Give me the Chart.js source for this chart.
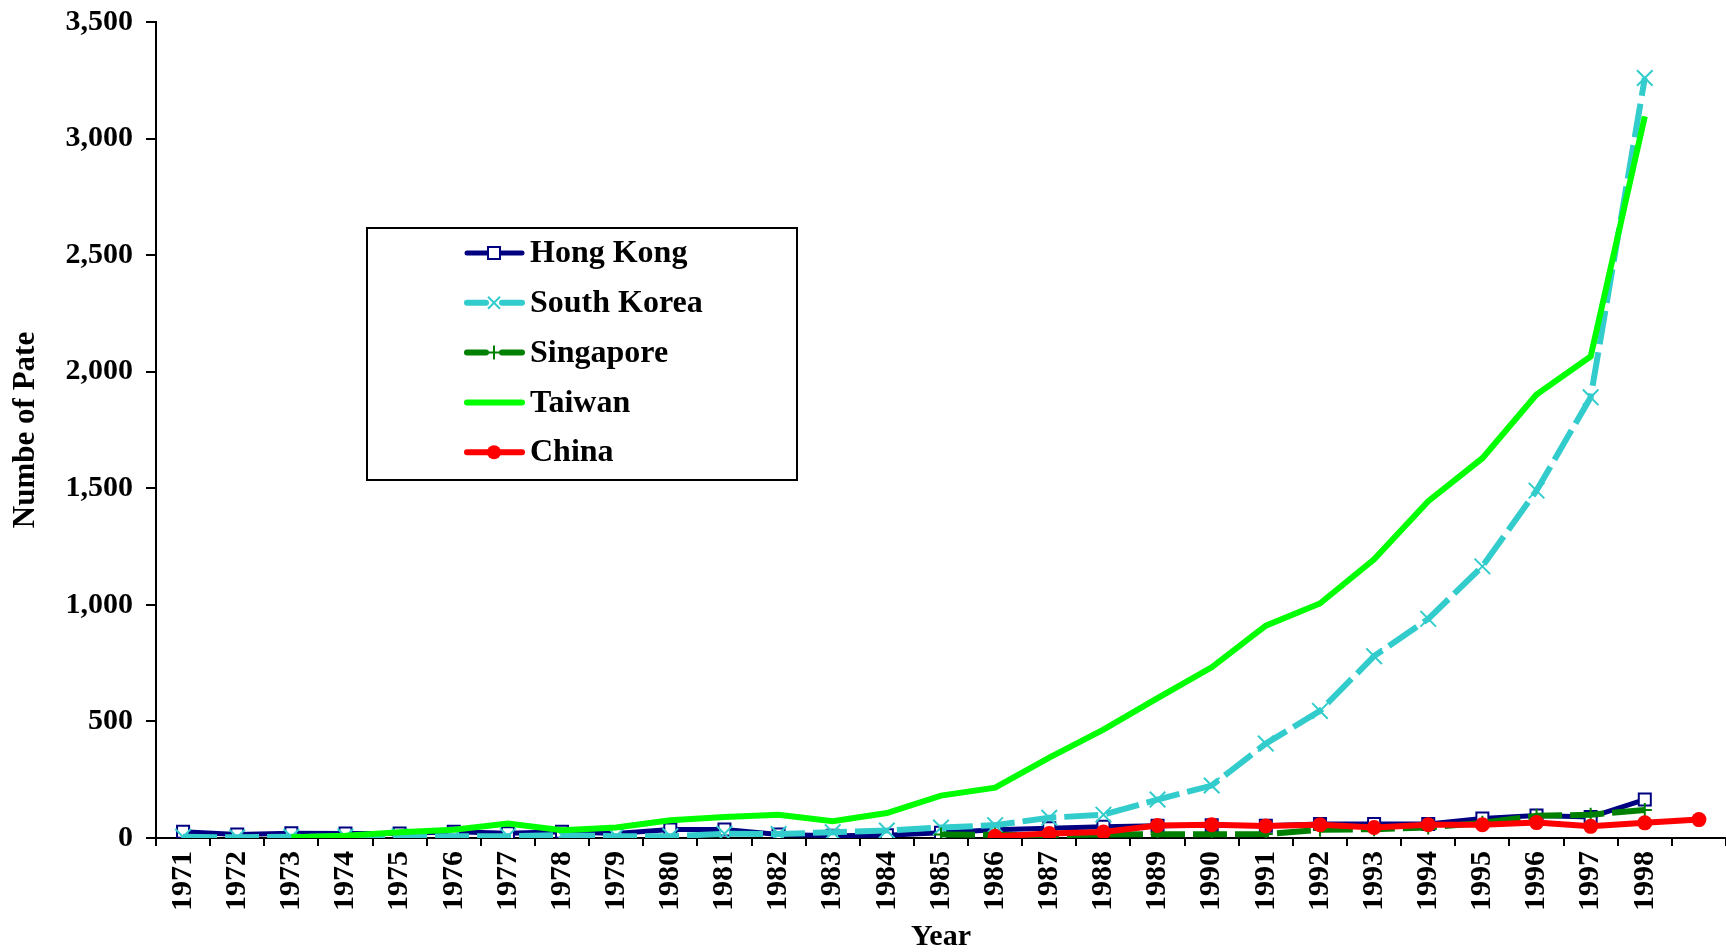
<!DOCTYPE html>
<html>
<head>
<meta charset="utf-8">
<script src="https://cdn.jsdelivr.net/npm/chart.js@4/dist/chart.umd.min.js"></script>
<style>
  body { margin: 0; background: #fff; }
  #chart { display: block; }
</style>
</head>
<body>
<canvas id="chart" width="1726" height="952"></canvas>
<script>
// years on the x axis (last slot has no label, China still has a value there)
const years = ['1971','1972','1973','1974','1975','1976','1977','1978','1979','1980',
  '1981','1982','1983','1984','1985','1986','1987','1988','1989','1990',
  '1991','1992','1993','1994','1995','1996','1997','1998',''];

const hongKong = [27,15,20,19,19,27,20,27,19,36,36,15,10,12,22,35,42,48,53,55,
  53,60,60,60,84,96,90,165,null];
const southKorea = [5,3,5,6,8,7,8,12,8,8,18,17,25,32,45,55,87,100,165,225,
  405,545,780,940,1165,1490,1890,3260,null];
const singapore = [null,null,null,null,null,null,null,null,null,null,null,null,null,null,
  15,14,12,15,16,16,17,35,38,45,65,95,100,120,null];
const taiwan = [null,null,3,10,25,35,62,33,45,76,90,100,72,107,182,216,345,465,600,732,
  911,1006,1195,1445,1629,1902,2065,3095,null];
const china = [null,null,null,null,null,null,null,null,null,null,null,null,null,null,null,
  7,19,26,54,57,52,57,45,57,57,66,50,65,79];

const yTicks = [0, 500, 1000, 1500, 2000, 2500, 3000, 3500];

const FONT = '"Liberation Serif", "Times New Roman", serif';

// legend drawn inside the plot, boxed, like the original
const legendBox = {
    id: 'legendBox',
    afterDatasetsDraw(chart) {
        const ctx = chart.ctx;
        const x = 367, y = 228, w = 430, h = 252;
        ctx.save();
        ctx.fillStyle = '#fff';
        ctx.fillRect(x, y, w, h);
        ctx.strokeStyle = '#000';
        ctx.lineWidth = 2;
        ctx.strokeRect(x, y, w, h);

        chart.data.datasets.forEach((ds, i) => {
            const cy = y + 25 + i * 49.8;
            const x0 = 467, x1 = 522, cx = 494;
            ctx.strokeStyle = ds.borderColor;
            ctx.lineWidth = ds.borderWidth;
            ctx.lineCap = 'round';
            ctx.setLineDash([]);
            ctx.beginPath();
            if (ds.borderDash && ds.borderDash.length) {
                ctx.moveTo(x0, cy); ctx.lineTo(cx - 8, cy);
                ctx.moveTo(cx + 8, cy); ctx.lineTo(x1, cy);
            } else {
                ctx.moveTo(x0, cy); ctx.lineTo(x1, cy);
            }
            ctx.stroke();
            ctx.lineCap = 'butt';

            // marker
            ctx.lineWidth = 2;
            ctx.strokeStyle = ds.pointBorderColor;
            ctx.fillStyle = ds.pointBackgroundColor;
            if (ds.pointStyle === 'rect') {
                ctx.fillRect(cx - 6, cy - 6, 12, 12);
                ctx.strokeRect(cx - 6, cy - 6, 12, 12);
            } else if (ds.pointStyle === 'crossRot') {
                ctx.beginPath();
                ctx.moveTo(cx - 6, cy - 6); ctx.lineTo(cx + 6, cy + 6);
                ctx.moveTo(cx + 6, cy - 6); ctx.lineTo(cx - 6, cy + 6);
                ctx.stroke();
            } else if (ds.pointStyle === 'cross') {
                ctx.beginPath();
                ctx.moveTo(cx - 7, cy); ctx.lineTo(cx + 7, cy);
                ctx.moveTo(cx, cy - 7); ctx.lineTo(cx, cy + 7);
                ctx.stroke();
            } else if (ds.pointStyle === 'circle' && ds.pointRadius > 0) {
                ctx.beginPath();
                ctx.arc(cx, cy, 7, 0, Math.PI * 2);
                ctx.fill();
            }

            ctx.fillStyle = '#000';
            ctx.font = 'bold 32px ' + FONT;
            ctx.textBaseline = 'middle';
            ctx.textAlign = 'left';
            ctx.fillText(ds.label, 530, cy + 1);
        });
        ctx.restore();
    }
};

new Chart(document.getElementById('chart'), {
    type: 'line',
    data: {
        labels: years,
        datasets: [
            {
                label: 'Hong Kong', data: hongKong, order: 5,
                borderColor: '#000080', borderWidth: 5,
                pointStyle: 'rect', pointRadius: 8.5, pointBorderWidth: 2,
                pointBorderColor: '#000080', pointBackgroundColor: '#fff'
            },
            {
                label: 'South Korea', data: southKorea, order: 4,
                borderColor: '#33CCCC', borderWidth: 6, borderDash: [34, 8],
                pointStyle: 'crossRot', pointRadius: 11, pointBorderWidth: 2,
                pointBorderColor: '#33CCCC', pointBackgroundColor: '#33CCCC'
            },
            {
                label: 'Singapore', data: singapore, order: 3,
                borderColor: '#008000', borderWidth: 6, borderDash: [34, 8],
                pointStyle: 'cross', pointRadius: 7, pointBorderWidth: 2,
                pointBorderColor: '#008000', pointBackgroundColor: '#008000'
            },
            {
                label: 'Taiwan', data: taiwan, order: 2,
                borderColor: '#00FF00', borderWidth: 6,
                pointStyle: 'circle', pointRadius: 0,
                pointBorderColor: '#00FF00', pointBackgroundColor: '#00FF00'
            },
            {
                label: 'China', data: china, order: 1,
                borderColor: '#FF0000', borderWidth: 6,
                pointStyle: 'circle', pointRadius: 7.5, pointBorderWidth: 0,
                pointBorderColor: '#FF0000', pointBackgroundColor: '#FF0000'
            }
        ]
    },
    options: {
        responsive: false,
        animation: false,
        devicePixelRatio: 1,
        layout: { autoPadding: false, padding: { top: 22, right: -3, left: 0, bottom: 0 } },
        elements: { line: { tension: 0 } },
        plugins: {
            legend: { display: false },
            tooltip: { enabled: false }
        },
        scales: {
            x: {
                type: 'category',
                offset: true,
                grid: {
                    offset: true, drawOnChartArea: false, drawTicks: true,
                    tickLength: 8, color: '#000', lineWidth: 2
                },
                border: { color: '#000', width: 2 },
                ticks: {
                    color: '#000', padding: 5, autoSkip: false,
                    minRotation: 90, maxRotation: 90,
                    font: { family: FONT, size: 30, weight: 'bold' }
                },
                title: {
                    display: true, text: 'Year', color: '#000',
                    padding: { top: 0, bottom: 0 },
                    font: { family: FONT, size: 30, weight: 'bold', lineHeight: 1 }
                },
                afterFit: s => { s.height = 114; s.paddingRight = 0; s.paddingLeft = 0; }
            },
            y: {
                min: 0, max: 3500,
                afterBuildTicks: s => { s.ticks = yTicks.map(v => ({ value: v })); },
                grid: {
                    drawOnChartArea: false, drawTicks: true,
                    tickLength: 10, color: '#000', lineWidth: 2
                },
                border: { color: '#000', width: 2 },
                ticks: {
                    color: '#000', padding: 13,
                    font: { family: FONT, size: 30, weight: 'bold' },
                    callback: v => v.toLocaleString('en-US')
                },
                title: {
                    display: true, text: 'Numbe of Pate', color: '#000',
                    padding: { top: 10, bottom: 10 },
                    font: { family: FONT, size: 31, weight: 'bold', lineHeight: 1 }
                },
                afterFit: s => { s.width = 156; s.paddingTop = 0; s.paddingBottom = 0; }
            }
        }
    },
    plugins: [legendBox]
});
</script>
</body>
</html>
